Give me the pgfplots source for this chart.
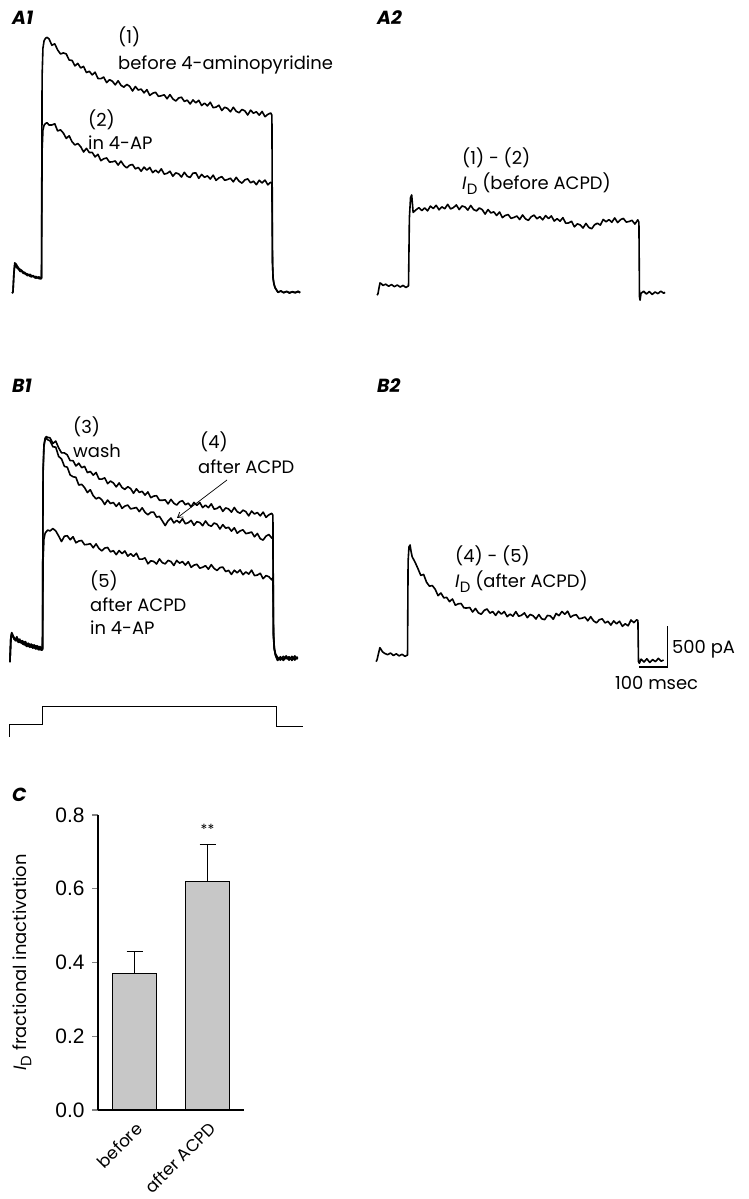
\documentclass[border=0pt]{standalone}
\usepackage{fontspec}
\setmainfont{Poppins}
\newfontfamily\arialfont{Liberation Sans}
\usepackage{pgfplots}
\usepackage{pgfplotstable}
\pgfplotsset{compat=1.18}
\usetikzlibrary{arrows.meta}

\newcommand{\ID}{{\itshape I}\kern0.3bp\raisebox{-0.5ex}{\fontsize{15}{15}\selectfont D}}

% A1: time (ms), current (pA): (1) before 4-AP, (2) in 4-AP
\pgfplotstableread{
t I1 I2
-3 -40 -40
0 -20 -25
3 200 190
6 330 300
10 320 290
15 290 265
20 265 250
25 250 225
30 240 230
35 220 205
40 215 200
45 200 190
50 195 175
55 185 180
60 190 165
65 170 160
70 175 170
75 160 150
80 165 145
85 150 150
90 160 140
95 145 135
99 150 140
101 2600 1700
104 2950 1950
108 3040 2010
113 3070 2030
118 3080 2040
125 3063 2012
135 2984 2012
145 3002 2027
155 2927 1939
165 2878 1953
175 2891 1913
185 2878 1848
195 2804 1880
205 2800 1808
215 2733 1769
225 2763 1786
235 2708 1748
245 2726 1683
255 2651 1727
265 2667 1676
275 2623 1678
285 2656 1623
295 2579 1654
305 2577 1577
315 2596 1600
325 2529 1610
335 2564 1560
345 2546 1563
355 2501 1573
365 2551 1523
375 2496 1572
385 2473 1518
395 2507 1489
405 2484 1522
415 2427 1530
425 2481 1477
435 2438 1494
445 2450 1448
455 2404 1498
465 2443 1462
475 2373 1494
485 2399 1431
495 2411 1461
505 2362 1430
515 2368 1477
525 2380 1413
535 2332 1422
545 2383 1448
555 2331 1387
565 2305 1428
575 2341 1416
585 2351 1378
595 2299 1435
605 2315 1387
615 2268 1372
625 2318 1425
635 2282 1428
645 2313 1362
655 2250 1409
665 2278 1374
675 2245 1392
685 2289 1353
695 2223 1400
705 2230 1337
715 2253 1367
725 2189 1382
735 2228 1338
745 2214 1347
755 2173 1363
765 2228 1319
775 2179 1374
785 2162 1326
795 2201 1303
805 2184 1342
815 2134 1355
825 2193 1307
835 2156 1327
845 2173 1284
855 2132 1338
865 2177 1305
875 2113 1340
885 2142 1282
895 2158 1315
899 2130 1300
901 350 330
903 150 140
906 80 70
910 30 25
920 -30 -25
930 -10 -15
940 -35 -30
950 -15 -20
960 -40 -30
970 -20 -25
980 -30 -35
990 -15 -20
997 -30 -35
}\tableAone

% A2: (1)-(2), I_D before ACPD
\pgfplotstableread{
t ID
-10 -40
-7 -20
-4 40
0 110
5 100
10 80
20 95
30 70
40 90
50 65
60 85
70 60
80 80
90 55
99 75
102 900
106 1150
110 1183
113 1060
115 970
125 1002
135 1028
145 992
155 1025
165 989
175 1047
185 1018
195 1057
205 1002
215 1038
225 1015
235 1069
245 1013
255 1029
265 1061
275 1005
285 1049
295 1037
305 999
315 1055
325 1005
335 989
345 1024
355 1004
365 950
375 1005
385 964
395 977
405 933
415 975
425 907
435 933
445 944
455 898
465 909
475 926
485 884
495 939
505 892
515 873
525 918
535 937
545 893
555 919
565 880
575 932
585 895
595 927
605 865
615 894
625 863
635 906
645 838
655 842
665 862
675 795
685 831
695 818
705 780
715 836
725 787
735 771
745 820
755 838
765 816
775 884
785 856
795 882
805 850
815 903
825 846
835 882
845 897
855 852
865 860
875 874
885 828
895 880
899 850
901 -60
903 -100
906 -20
915 10
925 -25
935 5
945 -30
955 0
965 -20
975 10
985 -15
990 -5
}\tableAtwo

% B1: (3) wash, (4) after ACPD, (5) after ACPD in 4-AP
\pgfplotstableread{
t I3 I4 I5
-14 -50 -50 -50
-11 250 240 230
-8 310 300 290
-4 280 270 260
0 250 230 240
5 220 240 210
10 260 210 230
15 200 230 190
20 230 190 210
25 180 210 200
30 210 170 190
35 160 200 170
40 200 150 180
45 150 180 140
50 180 140 170
55 140 170 130
60 170 130 160
65 130 160 120
70 160 120 150
75 120 150 110
80 150 110 140
85 110 140 100
90 140 100 130
95 100 130 95
99 120 110 100
101 2300 2250 1200
104 2600 2580 1450
108 2680 2660 1520
112 2700 2680 1540
117 2690 2660 1560
125 2685 2649 1549
135 2616 2576 1578
145 2645 2571 1550
155 2563 2458 1488
165 2501 2428 1420
175 2501 2337 1485
185 2477 2327 1491
195 2407 2232 1442
205 2406 2210 1478
215 2342 2203 1405
225 2375 2109 1426
235 2321 2118 1433
245 2337 2078 1381
255 2260 2017 1385
265 2275 2051 1394
275 2230 1979 1344
285 2262 1941 1391
295 2183 1958 1335
305 2181 1929 1306
315 2197 1872 1340
325 2126 1926 1348
335 2157 1884 1294
345 2135 1896 1309
355 2086 1849 1260
365 2135 1891 1310
375 2079 1825 1273
385 2056 1852 1305
395 2089 1865 1242
405 2066 1818 1271
415 2009 1826 1239
425 2063 1835 1277
435 2020 1785 1205
445 2032 1831 1205
455 1986 1776 1221
465 2025 1746 1149
475 1955 1777 1185
485 1974 1779 1178
495 1979 1718 1146
505 1924 1727 1208
515 1923 1672 1162
525 1929 1615 1148
535 1879 1673 1190
545 1934 1707 1176
555 1887 1647 1128
565 1865 1678 1190
575 1905 1649 1156
585 1918 1698 1176
595 1869 1637 1133
605 1888 1650 1174
615 1844 1678 1106
625 1897 1619 1132
635 1862 1662 1143
645 1896 1652 1095
655 1834 1614 1107
665 1864 1671 1125
675 1833 1622 1083
685 1880 1606 1138
695 1815 1646 1091
705 1824 1630 1068
715 1850 1573 1102
725 1788 1626 1109
735 1830 1583 1054
745 1818 1594 1068
755 1779 1547 1019
765 1835 1588 1070
775 1784 1522 1038
785 1765 1549 1074
795 1803 1563 1016
805 1785 1517 1050
815 1733 1524 1023
825 1792 1536 1071
835 1756 1478 1005
845 1774 1518 1011
855 1733 1455 1033
865 1779 1438 967
875 1715 1486 1005
885 1746 1506 991
895 1764 1462 952
899 1740 1480 980
901 300 280 250
904 120 110 100
908 40 50 30
915 -20 10 -30
925 15 -25 5
935 -30 20 -15
945 10 -10 25
955 -25 15 -20
965 20 -30 10
975 -10 25 -25
985 5 -15 15
}\tableBone

% B2: (4)-(5), I_D after ACPD
\pgfplotstableread{
t ID
-10 -20
-7 0
-3 60
3 150
7 130
12 100
20 80
30 65
40 85
50 55
60 75
70 50
80 70
90 45
99 60
101 1200
104 1380
108 1402
111 1330
115 1260
125 1194
135 1116
145 1032
155 1043
165 949
175 900
185 908
195 863
205 785
215 817
225 758
235 763
245 711
255 744
265 668
275 685
285 689
295 635
305 634
315 640
325 585
335 628
345 575
355 558
365 604
375 622
385 572
395 590
405 544
415 595
425 559
435 591
445 529
455 559
465 535
475 590
485 533
495 546
505 574
515 516
525 555
535 540
545 500
555 554
565 502
575 492
585 543
595 537
605 497
615 567
625 541
635 591
645 558
655 595
665 522
675 544
685 552
695 503
705 510
715 524
725 478
735 528
745 477
755 453
765 491
775 502
785 452
795 471
805 426
815 477
825 441
835 473
845 411
855 441
865 417
875 488
885 455
895 490
899 480
901 -20
904 -40
910 10
920 -25
930 15
940 -30
950 5
960 -20
970 20
980 -15
988 0
}\tableBtwo

\pgfplotsset{
  trace/.style={hide axis, scale only axis, width=288bp, height=307.5bp,
    xmin=0, xmax=1000, ymin=-250, ymax=3500, clip=false, anchor=south west},
  tr/.style={black, line width=1.6bp, line join=round, no markers},
}
\tikzset{
  lab/.style={anchor=base west, inner sep=0pt, font=\fontsize{18}{20}\selectfont},
  plab/.style={anchor=base west, inner sep=0pt, font=\fontsize{19}{20}\selectfont\bfseries\itshape},
}

\begin{document}
\begin{tikzpicture}[x=1bp, y=1bp]
\useasboundingbox (0,0) rectangle (749,1199);

% ---------- A1 ----------
\begin{axis}[trace, at={(13bp,888.5bp)}]
\addplot[tr] table[x=t, y=I1] {\tableAone};
\addplot[tr] table[x=t, y=I2] {\tableAone};
\end{axis}
% ---------- A2 ----------
\begin{axis}[trace, at={(380bp,886.5bp)}]
\addplot[tr] table[x=t, y=ID] {\tableAtwo};
\end{axis}
% ---------- B1 ----------
\begin{axis}[trace, at={(14bp,520.5bp)}]
\addplot[tr] table[x=t, y=I3] {\tableBone};
\addplot[tr] table[x=t, y=I4] {\tableBone};
\addplot[tr] table[x=t, y=I5] {\tableBone};
\end{axis}
% ---------- B2 ----------
\begin{axis}[trace, at={(379bp,518.5bp)}]
\addplot[tr] table[x=t, y=ID] {\tableBtwo};
% scale bar: 100 ms, 500 pA
\addplot[black, line width=1.1bp, no markers] coordinates {(903,-85) (1003,-85) (1003,415)};
\end{axis}
% ---------- command voltage protocol ----------
\begin{axis}[hide axis, scale only axis, width=288bp, height=50bp,
  xmin=0, xmax=1000, ymin=-100, ymax=-50, at={(14bp,452bp)}, anchor=south west, clip=false]
\addplot[black, line width=1bp, no markers] coordinates {(-14,-90) (-14,-78) (100,-78) (100,-60) (910,-60) (910,-80) (1003,-80)};
\end{axis}

% ---------- C: bar chart ----------
\begin{axis}[at={(98bp,89bp)}, anchor=south west, scale only axis, width=146bp, height=295bp,
  xmin=-0.5, xmax=1.5, ymin=0, ymax=0.8, clip=false,
  axis x line*=bottom, axis y line*=left,
  axis line style={line width=1.1bp},
  ytick={0,0.2,0.4,0.6,0.8}, xtick={0,1}, xticklabels={before, after ACPD},
  tick align=outside, major tick length=6bp, tick style={line width=1.1bp},
  x tick style={draw=none},
  yticklabel style={font=\arialfont\fontsize{21}{21}\selectfont, xshift=-4bp,
    /pgf/number format/fixed, /pgf/number format/fixed zerofill,
    /pgf/number format/precision=1, /pgf/number format/assume math mode=true},
  xticklabel style={rotate=45, anchor=north east, font=\fontsize{17}{18}\selectfont},
  ylabel={\ID\ fractional inactivation},
  ylabel style={at={(axis description cs:-0.52,0.5)}, anchor=center,
    font=\fontsize{18}{20}\selectfont},
]
\addplot[ybar, bar width=0.6, fill=black!22, draw=black, line width=1.1bp,
  error bars/.cd, y dir=plus, y explicit,
  error bar style={line width=1.1bp, black},
  error mark options={rotate=90, black, line width=1.1bp, mark size=8bp}]
  coordinates {(0,0.37) +- (0,0.06) (1,0.62) +- (0,0.10)};
\node[font=\fontsize{14}{14}\selectfont] at (axis cs:1,0.762) {**};
\end{axis}

% ---------- panel letters ----------
\node[plab] at (12,1174) {A1};
\node[plab] at (377,1174) {A2};
\node[plab] at (12,806) {B1};
\node[plab] at (377,806) {B2};
\node[plab] at (12,397) {C};

% ---------- annotations ----------
\node[lab] at (118,1155) {(1)};
\node[lab] at (118,1129) {before 4-aminopyridine};
\node[lab] at (88,1072) {(2)};
\node[lab] at (88,1049) {in 4-AP};

\node[lab] at (462,1034) {(1) - (2)};
\node[lab] at (462,1009) {\ID\ (before ACPD)};

\node[lab] at (73,765) {(3)};
\node[lab] at (73,741) {wash};
\node[lab] at (200,750) {(4)};
\node[lab] at (198,725) {after ACPD};
\draw[line width=0.7bp, -{Straight Barb[length=5bp, width=6bp]}] (227,719) -- (177,681);
\node[lab] at (90,611) {(5)};
\node[lab] at (90,587) {after ACPD};
\node[lab] at (90,564) {in 4-AP};

\node[lab] at (455,636) {(4) - (5)};
\node[lab] at (455,611) {\ID\ (after ACPD)};

\node[lab] at (672,545) {500 pA};
\node[lab] at (615,509) {100 msec};
\end{tikzpicture}
\end{document}
